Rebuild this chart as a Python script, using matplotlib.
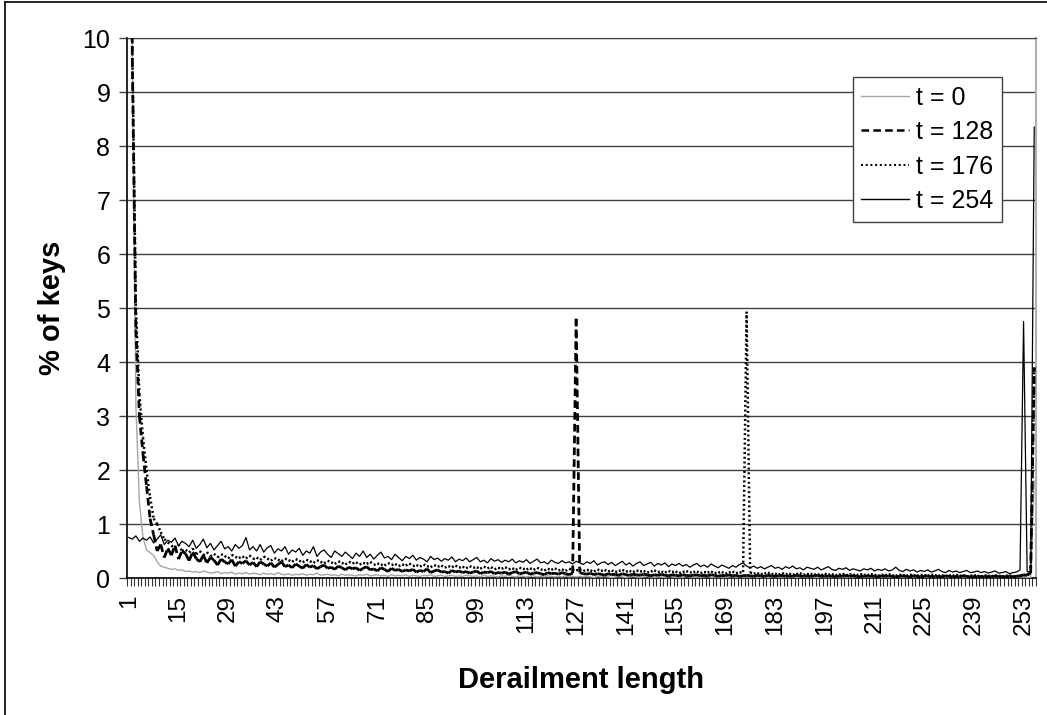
import numpy as np
import matplotlib
matplotlib.use("Agg")
import matplotlib.pyplot as plt
from matplotlib.collections import LineCollection
from matplotlib.lines import Line2D

plt.rcParams['font.family'] = ['Liberation Sans', 'DejaVu Sans']
plt.rcParams['lines.scale_dashes'] = False

# derailment length categories 1..256
lengths = list(range(1, 257))
tick_labels = [str(v) for v in range(1, 257, 14)]
series_names = ["t = 0", "t = 128", "t = 176", "t = 254"]

t0 = [
    30.0, 9.6, 3.2, 1.4, 0.75, 0.52, 0.47, 0.42, 0.3, 0.22, 0.2, 0.18, 0.16, 0.17, 0.14, 0.15,
    0.12, 0.13, 0.11, 0.12, 0.1, 0.13, 0.11, 0.09, 0.1, 0.12, 0.08, 0.1, 0.09, 0.11, 0.07, 0.09,
    0.08, 0.1, 0.07, 0.09, 0.08, 0.06, 0.09, 0.07, 0.08, 0.06, 0.1, 0.07, 0.06, 0.08, 0.05, 0.07,
    0.06, 0.08, 0.05, 0.07, 0.06, 0.09, 0.05, 0.06, 0.07, 0.05, 0.06, 0.04, 0.07, 0.05, 0.06, 0.05,
    0.04, 0.06, 0.05, 0.07, 0.04, 0.05, 0.06, 0.04, 0.05, 0.03, 0.06, 0.04, 0.05, 0.04, 0.06, 0.03,
    0.05, 0.04, 0.03, 0.05, 0.04, 0.06, 0.03, 0.04, 0.05, 0.03, 0.04, 0.05, 0.03, 0.04, 0.03, 0.05,
    0.04, 0.03, 0.04, 0.02, 0.05, 0.03, 0.04, 0.03, 0.02, 0.04, 0.03, 0.05, 0.03, 0.02, 0.04, 0.03,
    0.02, 0.03, 0.04, 0.02, 0.03, 0.02, 0.04, 0.03, 0.02, 0.03, 0.02, 0.04, 0.02, 0.03, 0.02, 0.03,
    0.02, 0.03, 0.02, 0.01, 0.03, 0.02, 0.03, 0.02, 0.01, 0.02, 0.03, 0.02, 0.01, 0.02, 0.03, 0.02,
    0.01, 0.02, 0.03, 0.02, 0.01, 0.02, 0.02, 0.01, 0.03, 0.02, 0.01, 0.02, 0.01, 0.03, 0.02, 0.01,
    0.02, 0.01, 0.02, 0.03, 0.01, 0.02, 0.01, 0.02, 0.01, 0.02, 0.03, 0.01, 0.02, 0.01, 0.02, 0.01,
    0.02, 0.01, 0.01, 0.02, 0.01, 0.02, 0.01, 0.01, 0.02, 0.01, 0.02, 0.01, 0.01, 0.02, 0.01, 0.01,
    0.02, 0.01, 0.01, 0.02, 0.01, 0.01, 0.02, 0.01, 0.01, 0.01, 0.02, 0.01, 0.01, 0.02, 0.01, 0.01,
    0.01, 0.02, 0.01, 0.01, 0.01, 0.02, 0.01, 0.01, 0.01, 0.02, 0.01, 0.01, 0.01, 0.01, 0.02, 0.01,
    0.01, 0.01, 0.01, 0.02, 0.01, 0.01, 0.01, 0.01, 0.02, 0.01, 0.01, 0.01, 0.01, 0.01, 0.02, 0.01,
    0.01, 0.01, 0.01, 0.01, 0.02, 0.01, 0.01, 0.01, 0.01, 0.01, 0.01, 0.01, 0.02, 0.01, 0.01, 1.8,
]

t128 = [
    20.0, 9.6, 4.6, 3.0, 2.3, 1.7, 1.1, 0.8, 0.5, 0.62, 0.38, 0.55, 0.42, 0.6, 0.35, 0.5,
    0.45, 0.32, 0.48, 0.36, 0.3, 0.42, 0.28, 0.38, 0.33, 0.24, 0.35, 0.3, 0.26, 0.34, 0.22, 0.3,
    0.27, 0.32, 0.24, 0.29, 0.21, 0.3, 0.26, 0.22, 0.28, 0.2, 0.25, 0.3, 0.21, 0.24, 0.19, 0.26,
    0.22, 0.18, 0.25, 0.2, 0.23, 0.17, 0.21, 0.24, 0.18, 0.2, 0.16, 0.22, 0.19, 0.15, 0.2, 0.17,
    0.19, 0.14, 0.18, 0.21, 0.15, 0.17, 0.13, 0.19, 0.16, 0.12, 0.18, 0.14, 0.16, 0.12, 0.15, 0.13,
    0.16, 0.11, 0.14, 0.12, 0.17, 0.1, 0.13, 0.15, 0.11, 0.12, 0.09, 0.14, 0.11, 0.13, 0.1, 0.12,
    0.09, 0.11, 0.13, 0.08, 0.11, 0.1, 0.12, 0.08, 0.1, 0.09, 0.11, 0.07, 0.1, 0.12, 0.08, 0.09,
    0.11, 0.07, 0.09, 0.1, 0.08, 0.06, 0.1, 0.08, 0.09, 0.07, 0.1, 0.08, 0.06, 0.09, 4.8, 0.1,
    0.08, 0.07, 0.09, 0.06, 0.08, 0.07, 0.05, 0.08, 0.06, 0.07, 0.05, 0.08, 0.06, 0.05, 0.07, 0.06,
    0.05, 0.07, 0.06, 0.04, 0.06, 0.05, 0.07, 0.05, 0.04, 0.06, 0.05, 0.04, 0.06, 0.05, 0.04, 0.05,
    0.06, 0.04, 0.05, 0.04, 0.06, 0.05, 0.03, 0.05, 0.04, 0.06, 0.04, 0.05, 0.03, 0.04, 0.05, 0.04,
    0.03, 0.05, 0.04, 0.03, 0.05, 0.04, 0.03, 0.04, 0.05, 0.03, 0.04, 0.03, 0.05, 0.04, 0.03, 0.04,
    0.03, 0.04, 0.05, 0.03, 0.04, 0.03, 0.04, 0.02, 0.04, 0.03, 0.05, 0.03, 0.04, 0.03, 0.02, 0.04,
    0.03, 0.04, 0.03, 0.02, 0.04, 0.03, 0.04, 0.03, 0.02, 0.03, 0.04, 0.03, 0.02, 0.04, 0.03, 0.02,
    0.03, 0.04, 0.02, 0.03, 0.03, 0.02, 0.04, 0.03, 0.02, 0.03, 0.02, 0.04, 0.03, 0.02, 0.03, 0.02,
    0.03, 0.02, 0.03, 0.02, 0.04, 0.02, 0.03, 0.02, 0.03, 0.02, 0.03, 0.04, 0.06, 0.05, 0.1, 3.9,
]

t176 = [
    20.0, 9.8, 5.0, 3.4, 2.6, 2.0, 1.5, 1.1, 1.0, 0.85, 0.72, 0.66, 0.6, 0.55, 0.62, 0.5,
    0.52, 0.47, 0.55, 0.44, 0.5, 0.42, 0.48, 0.4, 0.45, 0.38, 0.44, 0.41, 0.36, 0.43, 0.39, 0.37,
    0.4, 0.36, 0.42, 0.35, 0.38, 0.33, 0.4, 0.36, 0.32, 0.37, 0.34, 0.31, 0.36, 0.33, 0.3, 0.35,
    0.32, 0.29, 0.34, 0.31, 0.28, 0.33, 0.3, 0.27, 0.32, 0.29, 0.26, 0.31, 0.28, 0.25, 0.3, 0.27,
    0.29, 0.25, 0.28, 0.26, 0.3, 0.24, 0.27, 0.25, 0.23, 0.28, 0.24, 0.26, 0.22, 0.25, 0.23, 0.27,
    0.22, 0.24, 0.21, 0.25, 0.22, 0.2, 0.24, 0.21, 0.23, 0.19, 0.22, 0.2, 0.23, 0.19, 0.21, 0.18,
    0.22, 0.19, 0.2, 0.17, 0.21, 0.18, 0.2, 0.16, 0.19, 0.17, 0.2, 0.16, 0.18, 0.15, 0.19, 0.17,
    0.16, 0.18, 0.15, 0.19, 0.16, 0.14, 0.17, 0.15, 0.18, 0.14, 0.16, 0.13, 0.17, 0.15, 0.14, 0.16,
    0.13, 0.15, 0.14, 0.12, 0.16, 0.13, 0.15, 0.12, 0.14, 0.11, 0.13, 0.15, 0.12, 0.13, 0.11, 0.14,
    0.12, 0.13, 0.1, 0.12, 0.14, 0.11, 0.12, 0.1, 0.13, 0.11, 0.12, 0.09, 0.11, 0.13, 0.1, 0.11,
    0.12, 0.09, 0.11, 0.1, 0.12, 0.09, 0.1, 0.11, 0.08, 0.1, 0.12, 0.09, 0.1, 0.11, 4.93, 0.1,
    0.08, 0.09, 0.07, 0.08, 0.1, 0.07, 0.08, 0.06, 0.09, 0.07, 0.08, 0.06, 0.07, 0.09, 0.06, 0.07,
    0.08, 0.06, 0.07, 0.05, 0.08, 0.06, 0.07, 0.05, 0.06, 0.08, 0.05, 0.07, 0.06, 0.05, 0.07, 0.06,
    0.05, 0.07, 0.06, 0.04, 0.06, 0.05, 0.07, 0.05, 0.04, 0.06, 0.05, 0.04, 0.06, 0.05, 0.04, 0.06,
    0.05, 0.04, 0.06, 0.05, 0.04, 0.05, 0.03, 0.05, 0.04, 0.06, 0.04, 0.05, 0.03, 0.04, 0.05, 0.04,
    0.03, 0.05, 0.04, 0.03, 0.05, 0.04, 0.03, 0.04, 0.05, 0.03, 0.04, 0.03, 0.05, 0.06, 0.1, 3.9,
]

t254 = [
    0.75, 0.72, 0.78, 0.68, 0.74, 0.7, 0.76, 0.65, 0.72, 0.8, 0.62, 0.7, 0.66, 0.74, 0.6, 0.68,
    0.64, 0.58, 0.7, 0.55, 0.62, 0.72, 0.56, 0.64, 0.52, 0.6, 0.68, 0.54, 0.58, 0.5, 0.62, 0.55,
    0.6, 0.75, 0.52, 0.58, 0.5, 0.62, 0.48, 0.56, 0.6, 0.46, 0.54, 0.5, 0.58, 0.44, 0.52, 0.48,
    0.55, 0.42, 0.5, 0.46, 0.58, 0.4, 0.48, 0.52, 0.44, 0.38, 0.5, 0.45, 0.4, 0.48, 0.42, 0.36,
    0.46, 0.4, 0.5, 0.38, 0.44, 0.35, 0.42, 0.48, 0.37, 0.4, 0.34, 0.44, 0.38, 0.32, 0.4, 0.36,
    0.42, 0.33, 0.38, 0.35, 0.3, 0.4, 0.34, 0.37, 0.31, 0.36, 0.33, 0.39, 0.3, 0.35, 0.32, 0.37,
    0.3, 0.34, 0.38, 0.3, 0.33, 0.28, 0.36, 0.31, 0.34, 0.29, 0.33, 0.3, 0.35, 0.28, 0.32, 0.29,
    0.34, 0.27, 0.31, 0.35, 0.28, 0.3, 0.26, 0.33, 0.29, 0.27, 0.32, 0.28, 0.3, 0.26, 0.31, 0.28,
    0.25, 0.3, 0.27, 0.32, 0.24, 0.28, 0.3, 0.25, 0.29, 0.23, 0.27, 0.31, 0.24, 0.28, 0.22, 0.27,
    0.3, 0.23, 0.26, 0.29, 0.22, 0.27, 0.24, 0.28, 0.21, 0.26, 0.23, 0.27, 0.22, 0.25, 0.2, 0.24,
    0.27, 0.21, 0.24, 0.2, 0.26, 0.22, 0.19, 0.24, 0.21, 0.18, 0.23, 0.2, 0.25, 0.28, 0.22, 0.19,
    0.22, 0.18, 0.21, 0.17, 0.2, 0.23, 0.18, 0.2, 0.16, 0.21, 0.18, 0.22, 0.17, 0.19, 0.15, 0.2,
    0.18, 0.16, 0.2, 0.15, 0.18, 0.21, 0.16, 0.14, 0.18, 0.16, 0.19, 0.14, 0.17, 0.15, 0.13, 0.17,
    0.15, 0.18, 0.13, 0.16, 0.14, 0.17, 0.13, 0.15, 0.2, 0.14, 0.12, 0.16, 0.13, 0.15, 0.11, 0.14,
    0.12, 0.15, 0.11, 0.13, 0.16, 0.12, 0.1, 0.14, 0.11, 0.13, 0.1, 0.12, 0.14, 0.1, 0.11, 0.13,
    0.1, 0.12, 0.09, 0.11, 0.13, 0.09, 0.1, 0.12, 0.08, 0.1, 0.11, 0.15, 4.75, 0.12, 0.1, 8.35,
]

styles = [
    dict(color="#a6a6a6", lw=1.0, ls="solid"),
    dict(color="black", lw=2.0, ls=(0, (5.5, 3.0))),
    dict(color="black", lw=1.8, ls=(0, (1.4, 2.0))),
    dict(color="black", lw=0.9, ls="solid"),
]

fig = plt.figure(figsize=(10.47, 7.15), dpi=100)
ax = fig.add_axes([127 / 1047, 137 / 715, 909 / 1047, 540 / 715])

x = np.array(lengths, dtype=float)
for vals, st in zip([t0, t128, t176, t254], styles):
    y = np.array(vals)
    if st["ls"] == "solid":
        ax.plot(x, y, color=st["color"], lw=st["lw"], zorder=3)
    else:
        # Excel restarts the dash pattern on every segment
        pts = np.column_stack([x, y])
        segs = np.stack([pts[:-1], pts[1:]], axis=1)
        lc = LineCollection(segs, colors=st["color"], linewidths=st["lw"],
                            linestyles=[st["ls"]], zorder=3)
        ax.add_collection(lc)

ax.set_xlim(0.5, 256.5)
ax.set_ylim(0, 10)
ax.set_yticks(range(0, 11))
ax.grid(axis="y", color="#404040", lw=1.0)
ax.set_axisbelow(True)

ax.set_xticks(range(1, 257, 14))
ax.set_xticklabels(tick_labels, rotation=90)
ax.set_xticks(np.arange(0.5, 257, 1.0), minor=True)
ax.tick_params(axis="x", which="major", length=0, pad=12, labelsize=17.5)
ax.tick_params(axis="x", which="minor", length=6, width=0.8, color="#333333")
ax.tick_params(axis="y", length=6, width=1.0, color="#404040", labelsize=18, pad=6)

for side in ["left", "bottom"]:
    ax.spines[side].set_color("black")
    ax.spines[side].set_linewidth(1.2)
ax.spines["top"].set_color("#404040")
ax.spines["right"].set_color("#b0b0b0")
ax.spines["right"].set_linewidth(1.5)

ax.set_xlabel("Derailment length", fontsize=21, fontweight="bold", labelpad=22)
ax.set_ylabel("% of keys", fontsize=21, fontweight="bold", labelpad=12)

handles = [Line2D([], [], color=st["color"], lw=st["lw"] if i != 3 else 1.0,
                  ls=st["ls"]) for i, st in enumerate(styles)]
handles[1].set_linewidth(1.8)
handles[2].set_linewidth(1.5)
leg = ax.legend(handles, series_names, loc="upper right",
                bbox_to_anchor=(0.963, 0.928), fontsize=18, handlelength=1.9,
                handletextpad=0.3, labelspacing=0.42, borderpad=0.35,
                fancybox=False, framealpha=1, edgecolor="#404040",
                borderaxespad=0)
leg.get_frame().set_linewidth(1.0)

# outer chart border
fig.add_artist(Line2D([5 / 1047, 5 / 1047], [0, 1 - 2 / 715], color="black",
                      lw=1.2, transform=fig.transFigure))
fig.add_artist(Line2D([5 / 1047, 1], [1 - 2 / 715, 1 - 2 / 715], color="black",
                      lw=1.2, transform=fig.transFigure))

fig.savefig("out.png", dpi=100)
